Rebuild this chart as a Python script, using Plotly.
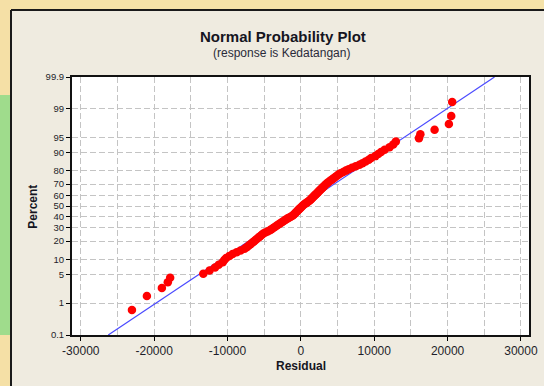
import plotly.graph_objects as go
from statistics import NormalDist

# ---- data (sorted residuals) ----
residuals = [
    -23030, -20990, -18950, -18140, -17820,
    -13300, -12450, -11700, -11200, -10650, -10440, -10180, -9730, -9300, -8760,
    -8220, -7680, -7390, -7130, -6870, -6640, -6400, -6180, -5970, -5760,
    -5560, -5350, -5160, -4860, -4540, -4230, -4000, -3770, -3550, -3320,
    -3110, -2900, -2700, -2490, -2290, -2080, -1850, -1620, -1380, -1150,
    -980, -850, -710, -590, -450, -320, -200, -60, 70, 200,
    340, 510, 690, 870, 1050, 1230, 1370, 1500, 1640, 1770,
    1900, 2040, 2170, 2320, 2450, 2590, 2730, 2870, 3010, 3150,
    3300, 3450, 3640, 3840, 4050, 4260, 4470, 4690, 4920, 5150,
    5410, 5780, 6140, 6520, 6970, 7480, 7990, 8400, 8830, 9260,
    9590, 10150, 10550, 10930, 11420, 12090, 12590, 12950,
    16100, 16290, 18230, 20180, 20500, 20630,
]
y_tick_percent = [0.1, 1, 5, 10, 20, 30, 40, 50, 60, 70, 80, 90, 95, 99, 99.9]
y_tick_labels = ["0.1", "1", "5", "10", "20", "30", "40", "50", "60", "70",
                 "80", "90", "95", "99", "99.9"]
x_tick_values = [-30000, -20000, -10000, 0, 10000, 20000, 30000]
x_tick_labels = ["-30000", "-20000", "-10000", "0", "10000", "20000", "30000"]
fit_mean = 70
fit_sd = 8520

nd = NormalDist()
n = len(residuals)
# Minitab default plotting positions (i - 0.3) / (n + 0.4)
z_points = [nd.inv_cdf((i + 1 - 0.3) / (n + 0.4)) for i in range(n)]
y_tick_z = [nd.inv_cdf(p / 100) for p in y_tick_percent]
z_lo, z_hi = y_tick_z[0], y_tick_z[-1]

fig = go.Figure()
fig.add_trace(go.Scatter(
    x=[fit_mean + fit_sd * z_lo, fit_mean + fit_sd * z_hi], y=[z_lo, z_hi],
    mode="lines", line=dict(color="#4a4aff", width=1.2), hoverinfo="skip"))
fig.add_trace(go.Scatter(
    x=residuals, y=z_points, mode="markers",
    marker=dict(color="#ff0000", size=8.5, line=dict(width=0))))

# plot area: left 72, right 529, top 77, bottom 335 (px)
L, R, T, B = 72, 15, 77, 51
W, H = 544 - L - R, 386 - T - B


def px(x):
    return (x - L) / W


def py(y):
    return (386 - B - y) / H


grid = dict(showgrid=True, gridcolor="#c4c4c4", gridwidth=1, griddash="6px,3px")

fig.update_layout(
    width=544, height=386,
    margin=dict(l=L, r=R, t=T, b=B, autoexpand=False),
    paper_bgcolor="#efebe0", plot_bgcolor="#ffffff",
    showlegend=False,
    font=dict(family="Liberation Sans, Arial, sans-serif", color="#1e1e2a"),
    xaxis=dict(range=[-31200, 31100], tickmode="array", tickvals=x_tick_values,
               ticktext=x_tick_labels, ticks="outside", ticklen=4, tickwidth=1,
               tickcolor="#000", tickfont=dict(size=12), zeroline=False,
               showline=True, linecolor="#111", linewidth=2, mirror=True,
               automargin=False,
               minor=dict(dtick=5000, tick0=0, showgrid=True, gridcolor="#c4c4c4",
                          gridwidth=1, griddash="6px,3px", ticks=""),
               **grid),
    yaxis=dict(range=[z_lo, z_hi], tickmode="array", tickvals=y_tick_z,
               ticktext=y_tick_labels, ticks="outside", ticklen=4, tickwidth=1,
               tickcolor="#000", tickfont=dict(size=9.5), zeroline=False,
               showline=True, linecolor="#111", linewidth=2, mirror=True,
               automargin=False,
               **grid),
    annotations=[
        dict(text="<b>Normal Probability Plot</b>", x=px(283), y=py(36.7),
             xref="paper", yref="paper", showarrow=False, xanchor="center",
             yanchor="middle", font=dict(size=15, color="#15151f")),
        dict(text="(response is Kedatangan)", x=px(281.5), y=py(53.3),
             xref="paper", yref="paper", showarrow=False, xanchor="center",
             yanchor="middle", font=dict(size=12, color="#2a2a3a")),
        dict(text="<b>Residual</b>", x=px(301), y=py(365.7),
             xref="paper", yref="paper", showarrow=False, xanchor="center",
             yanchor="middle", font=dict(size=12, color="#15151f")),
        dict(text="<b>Percent</b>", x=px(33), y=py(206.7), textangle=-90,
             xref="paper", yref="paper", showarrow=False, xanchor="center",
             yanchor="middle", font=dict(size=12, color="#15151f")),
    ],
    shapes=[
        dict(type="rect", xref="paper", yref="paper", x0=px(0), x1=px(544),
             y0=py(0), y1=py(10), fillcolor="#f5e2a8", line=dict(width=0)),
        dict(type="rect", xref="paper", yref="paper", x0=px(0), x1=px(11),
             y0=py(0), y1=py(386), fillcolor="#f5e0a6", line=dict(width=0)),
        dict(type="rect", xref="paper", yref="paper", x0=px(0), x1=px(11),
             y0=py(95), y1=py(335), fillcolor="#9fdc8c", line=dict(width=0)),
        dict(type="line", xref="paper", yref="paper", x0=px(11), x1=px(11),
             y0=py(386), y1=py(10), line=dict(color="#1a1a1a", width=2)),
        dict(type="line", xref="paper", yref="paper", x0=px(11), x1=px(544),
             y0=py(10), y1=py(10), line=dict(color="#1a1a1a", width=2)),
    ],
)

fig.write_html("out.html")
